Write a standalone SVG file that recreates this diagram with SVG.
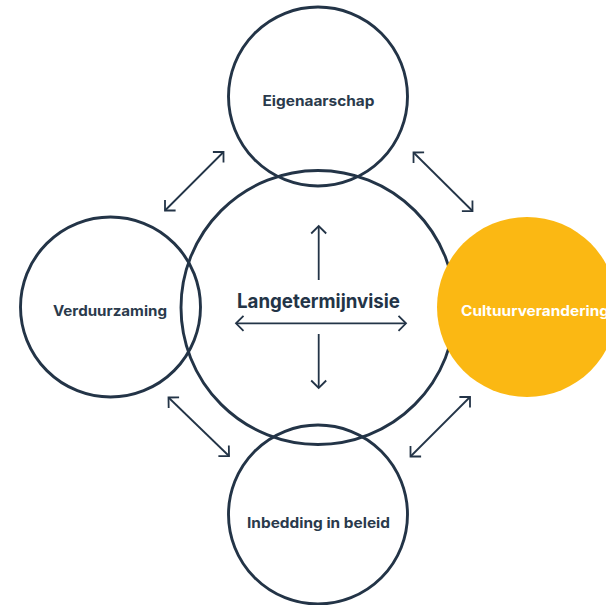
<svg xmlns="http://www.w3.org/2000/svg" width="606" height="605" viewBox="0 0 606 605">
<defs>
<style>
.ring{fill:none;stroke:#233447;stroke-width:2.9}
.lbl{font-family:Inter,"Liberation Sans",sans-serif;font-weight:700;font-size:14px;fill:#2a3a4c;text-anchor:middle}
.big{font-family:Inter,"Liberation Sans",sans-serif;font-weight:700;font-size:19.5px;fill:#233447;text-anchor:middle}
.arr{stroke:#233447;stroke-width:1.8;fill:none;marker-start:url(#ah);marker-end:url(#ah)}
.one{stroke:#233447;stroke-width:1.8;fill:none;marker-end:url(#ah)}
</style>
<marker id="ah" viewBox="-10 -10 12 20" refX="0" refY="0" markerWidth="12" markerHeight="20" markerUnits="userSpaceOnUse" orient="auto-start-reverse" overflow="visible">
<path d="M-7.5,-7.5 L0,0 L-7.5,7.5" fill="none" stroke="#233447" stroke-width="1.8"/>
</marker>
</defs>
<g id="center">
<circle class="ring" cx="318" cy="307.5" r="137"/>
<text class="big" x="318.5" y="307.5" textLength="163" lengthAdjust="spacingAndGlyphs">Langetermijnvisie</text>
</g>
<g id="top">
<circle class="ring" cx="318" cy="96.5" r="89.5"/>
<text class="lbl" x="318.5" y="105.5" textLength="112" lengthAdjust="spacingAndGlyphs">Eigenaarschap</text>
</g>
<g id="left">
<circle class="ring" cx="110.5" cy="307" r="90"/>
<text class="lbl" x="110" y="316" textLength="114" lengthAdjust="spacingAndGlyphs">Verduurzaming</text>
</g>
<g id="bottom">
<circle class="ring" cx="318" cy="514.5" r="89.5"/>
<text class="lbl" x="318.5" y="528" textLength="143" lengthAdjust="spacingAndGlyphs">Inbedding in beleid</text>
</g>
<g id="right">
<circle cx="527" cy="307" r="90" fill="#FBB813"/>
<text class="lbl" x="461" y="315.5" style="text-anchor:start;fill:#ffffff" textLength="148" lengthAdjust="spacingAndGlyphs">Cultuurverandering</text>
</g>
<g id="connectors">
<line class="one" x1="318.7" y1="280" x2="318.7" y2="226"/>
<line class="one" x1="318.7" y1="334" x2="318.7" y2="388"/>
<line class="arr" x1="236" y1="323.3" x2="406" y2="323.3"/>
<line class="arr" x1="165" y1="210.5" x2="223.5" y2="152"/>
<line class="arr" x1="413.5" y1="152.5" x2="472.5" y2="211"/>
<line class="arr" x1="168.5" y1="397.5" x2="229" y2="456"/>
<line class="arr" x1="470" y1="397" x2="410.5" y2="456.5"/>
</g>
</svg>
